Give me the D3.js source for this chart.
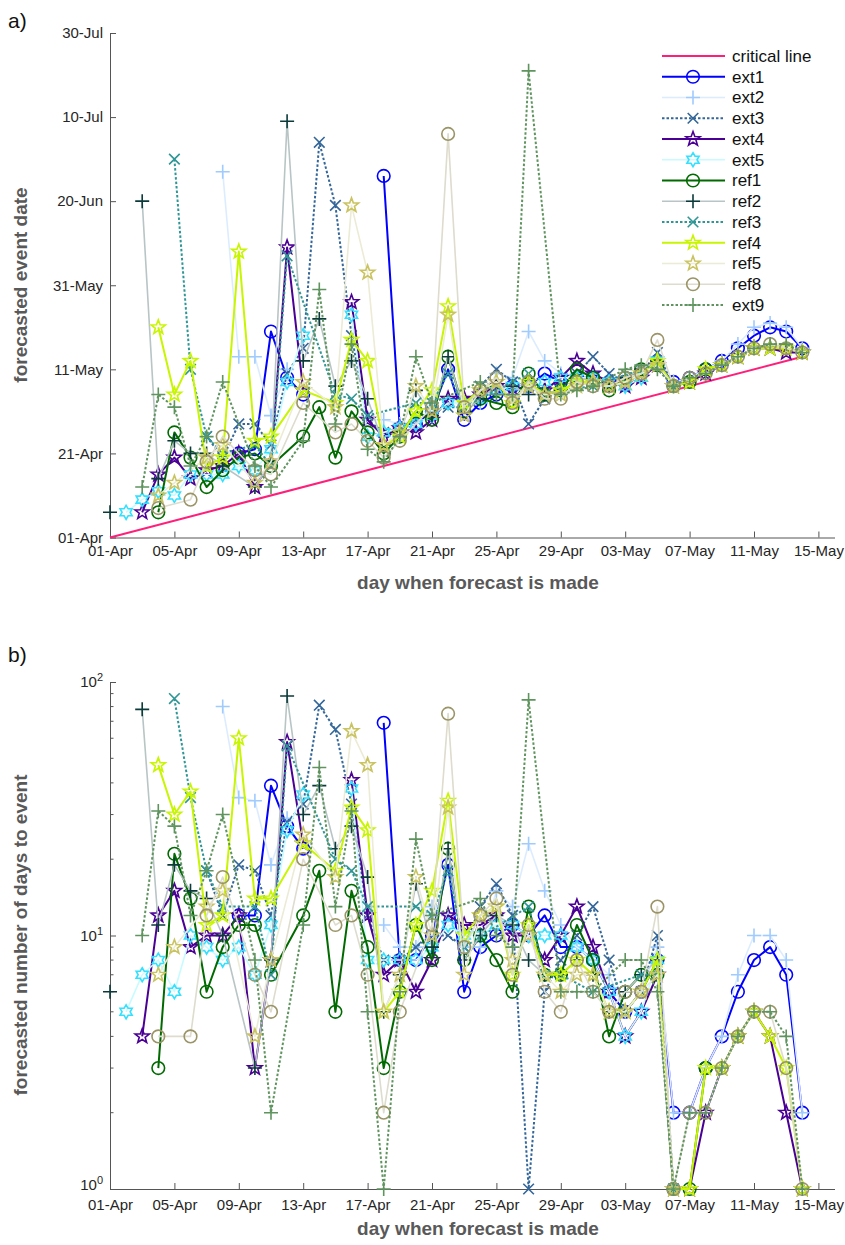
<!DOCTYPE html>
<html><head><meta charset="utf-8">
<script src="https://cdn.jsdelivr.net/npm/d3@7"></script>
<style>
body{margin:0;background:#fff}
text{font-family:"Liberation Sans",Arial,Helvetica,sans-serif}
</style>
</head><body>
<svg id="chart" width="845" height="1245"></svg>
<script>
// N = value hidden under other marks (no marker, line passes over), G = no forecast (line breaks)
const N = null, G = NaN;

// day on which the forecast is made, counted from 01-Apr
const forecastDay = [0,1,2,3,4,5,6,7,8,9,10,11,12,13,14,15,16,17,18,19,20,21,22,23,24,25,26,27,28,29,30,31,32,33,34,35,36,37,38,39,40,41,42,43];

const xTickDays   = [0,4,8,12,16,20,24,28,32,36,40,44];
const xTickLabels = ["01-Apr","05-Apr","09-Apr","13-Apr","17-Apr","21-Apr","25-Apr","29-Apr","03-May","07-May","11-May","15-May"];
const yTickDaysA   = [0,20,40,60,80,100,120];
const yTickLabelsA = ["01-Apr","21-Apr","11-May","31-May","20-Jun","10-Jul","30-Jul"];
const yTicksB    = [1,10,100];
const yTickExpB  = ["0","1","2"];
const criticalDays = [0,43];

// forecasted number of days to event (panel b); panel a = forecast day + this
const ext1 = [G,G,G,G,G,G,G,G,12,12,39,27,22,G,G,G,G,69,8,8,10,19,6,9,10,11,10,12,9,9,8,6,5,6,8,2,2,3,4,6,8,9,7,2];
const ext2 = [G,G,G,G,G,G,G,80,35,34,19,29,G,G,G,G,G,11,9,9,13,12,9,9,15,13,23,15,11,9,8,7,5,6,9,2,2,3,4,7,10,10,8,2];
const ext3 = [G,G,G,G,G,G,18,12,19,18,12,28,33,81,65,33,12,8,8,9,10,10,9,13,16,12,1,6,8,10,13,8,5,6,10,1,G,G,G,G,G,G,G,G];
const ext4 = [G,G,4,12,15,9,10,10,12,3,8,58,23,G,G,41,12,7,8,6,8,12,11,11,12,10,10,8,10,13,9,6,4,5,7,1,1,2,3,4,5,4,2,1];
const ext5 = [G,5,7,8,6,10,9,8,9,7,11,26,36,G,G,38,8,8,8,8,9,11,10,10,11,11,10,10,10,9,8,6,4,5,8,G,G,G,G,G,G,G,G,G];
const ref1 = [G,G,G,3,21,14,6,9,11,11,7,N,12,18,5,15,9,3,6,11,8,22,8,10,8,6,13,7,7,11,8,4,6,7,7,1,1,3,G,G,G,G,G,G];
const ref2 = [6,G,78,11,19,15,14,10,N,3,8,88,30,39,22,27,17,5,7,16,9,22,8,10,12,11,8,7,7,8,7,5,6,7,8,G,G,G,G,G,G,G,G,G];
const ref3 = [G,G,G,G,86,35,18,13,N,13,7,56,N,N,20,18,13,N,N,13,12,18,9,N,N,N,13,7,7,N,6,N,N,7,7,1,G,G,G,G,G,G,G,G];
const ref4 = [G,G,G,47,30,37,11,12,60,14,14,N,23,N,18,32,26,5,6,11,15,34,10,12,13,7,11,7,7,8,7,5,5,6,8,1,1,3,3,4,5,4,3,1];
const ref5 = [G,G,G,7,9,N,13,15,N,4,8,N,25,N,17,64,47,5,7,17,10,32,7,12,13,8,10,7,6,7,7,5,5,6,7,1,G,G,G,G,G,G,G,G];
const ref8 = [G,G,G,4,N,4,12,17,N,7,5,N,20,N,11,12,7,2,5,N,11,75,9,12,14,7,11,6,5,8,6,5,6,6,13,1,2,2,3,4,5,5,3,1];
const ext9 = [G,G,10,31,27,12,18,30,N,8,2,N,11,46,13,31,5,1,6,24,12,N,N,14,10,9,85,N,6,6,6,N,8,8,6,1,2,2,3,4,5,5,4,1];

const seriesNames = ["ext1","ext2","ext3","ext4","ext5","ref1","ref2","ref3","ref4","ref5","ref8","ext9"];
const seriesValues = [ext1,ext2,ext3,ext4,ext5,ref1,ref2,ref3,ref4,ref5,ref8,ext9];

// styles (kept apart from values)
const styles = {
  ext1:{mk:"#0000ff", ln:"#0000ff", w:2,   dash:null,  shape:"circle"},
  ext2:{mk:"#9fcbff", ln:"#dcecff", w:1.6, dash:null,  shape:"plus"},
  ext3:{mk:"#336699", ln:"#336699", w:2,   dash:"2.5,2", shape:"x"},
  ext4:{mk:"#4b0095", ln:"#4b0095", w:2,   dash:null,  shape:"pent"},
  ext5:{mk:"#33e0ff", ln:"#c8fbff", w:1.6, dash:null,  shape:"hex"},
  ref1:{mk:"#006a00", ln:"#006a00", w:2,   dash:null,  shape:"circle"},
  ref2:{mk:"#0b3a3a", ln:"#b9c5c5", w:1.6, dash:null,  shape:"plus"},
  ref3:{mk:"#2f9696", ln:"#2f9696", w:2,   dash:"2.5,2", shape:"x"},
  ref4:{mk:"#c8f500", ln:"#c8f500", w:2,   dash:null,  shape:"pent"},
  ref5:{mk:"#c9c360", ln:"#ecebd6", w:1.6, dash:null,  shape:"pent"},
  ref8:{mk:"#9a9466", ln:"#dedccd", w:1.6, dash:null,  shape:"circle"},
  ext9:{mk:"#5f945f", ln:"#5f945f", w:2,   dash:"2.5,2", shape:"plus"}
};
const criticalColor = "#ff1f7a";

function starPath(n, R, r){
  const pts=[];
  for(let k=0;k<2*n;k++){
    const a=-Math.PI/2 + k*Math.PI/n, rr = k%2===0?R:r;
    pts.push([ (rr*Math.cos(a)).toFixed(2), (rr*Math.sin(a)).toFixed(2) ]);
  }
  return "M"+pts.map(p=>p.join(",")).join("L")+"Z";
}
function markerPath(shape){
  switch(shape){
    case "circle": return d3.symbol(d3.symbolCircle, Math.PI*6.3*6.3)();
    case "plus": return "M-7,0H7M0,-7V7";
    case "x": return "M-5.3,-5.3L5.3,5.3M-5.3,5.3L5.3,-5.3";
    case "pent": return starPath(5, 7.5, 3.1);
    case "hex": return starPath(6, 7, 7/Math.sqrt(3));
  }
}

const svg = d3.select("#chart");
const x = d3.scaleLinear().domain([0,45]).range([110, 834.5]);
const yA = d3.scaleLinear().domain([0,120]).range([537.5, 33]);
const yB = d3.scaleLog().domain([1,100]).range([1189, 682]);

function styleAxis(g){
  g.select(".domain").attr("stroke","#555").attr("stroke-width",1);
  g.selectAll(".tick line").attr("stroke","#555");
  g.selectAll(".tick text").attr("fill","#262626").attr("font-size","15px");
}

function drawPanel(yScale, yValue, bottom, withCritical){
  const g = svg.append("g");
  // axes
  const ax = g.append("g").attr("transform",`translate(0,${bottom})`)
    .call(d3.axisBottom(x).tickValues(xTickDays).tickFormat((d,i)=>xTickLabels[i]).tickSizeInner(-6).tickSizeOuter(0).tickPadding(withCritical?8:10));
  styleAxis(ax);
  const ay = g.append("g").attr("transform",`translate(${x.range()[0]},0)`);
  if(withCritical){
    ay.call(d3.axisLeft(yScale).tickValues(yTickDaysA).tickFormat((d,i)=>yTickLabelsA[i]).tickSizeInner(-6).tickSizeOuter(0).tickPadding(7));
  } else {
    ay.call(d3.axisLeft(yScale).tickValues(yTicksB).tickFormat(()=>"10").tickSizeInner(-6).tickSizeOuter(0).tickPadding(7));
    ay.selectAll(".tick text").each(function(d,i){
      d3.select(this).append("tspan").attr("dy","-0.55em").attr("font-size","11px").text(yTickExpB[i]);
    });
    const minors = yScale.ticks().filter(t=>yTicksB.indexOf(t)<0);
    ay.selectAll(".minor").data(minors).join("line").attr("class","minor")
      .attr("x1",0).attr("x2",3.5).attr("y1",d=>yScale(d)).attr("y2",d=>yScale(d)).attr("stroke","#555");
  }
  styleAxis(ay);
  if(!withCritical){
    // lift the lowest log label slightly so it clears the date labels below
    ay.selectAll(".tick text").filter(d=>d===1).attr("dy","0.05em");
  }

  if(withCritical){
    g.append("path").datum(criticalDays)
      .attr("d", d3.line().x(d=>x(d)).y(d=>yScale(d)))
      .attr("fill","none").attr("stroke",criticalColor).attr("stroke-width",2);
  }
  seriesNames.forEach((name,si)=>{
    const st = styles[name];
    const pts = forecastDay.map((d,i)=>({d, v: seriesValues[si][i]})).filter(p=>p.v!==null);
    const line = d3.line().defined(p=>!isNaN(p.v)).x(p=>x(p.d)).y(p=>yScale(yValue(p)));
    const sg = g.append("g");
    sg.append("path").datum(pts).attr("d", line).attr("fill","none")
      .attr("stroke", st.ln).attr("stroke-width", st.w)
      .attr("stroke-dasharray", st.dash).attr("stroke-linejoin","round");
    sg.selectAll("path.mk").data(pts.filter(p=>!isNaN(p.v))).join("path").attr("class","mk")
      .attr("d", markerPath(st.shape))
      .attr("transform", p=>`translate(${x(p.d)},${yScale(yValue(p))})`)
      .attr("fill","none").attr("stroke", st.mk).attr("stroke-width",1.6);
  });
  return g;
}

drawPanel(yA, p=>p.d+p.v, 537.5, true);
drawPanel(yB, p=>p.v, 1189, false);

// titles and panel letters
const titleColor = "#595959";
function xTitle(yPos){
  svg.append("text").attr("x",478).attr("y",yPos).attr("text-anchor","middle")
    .attr("font-size","19px").attr("font-weight","bold").attr("fill",titleColor).text("day when forecast is made");
}
function yTitle(cy, txt){
  svg.append("text").attr("transform",`translate(27,${cy}) rotate(-90)`).attr("text-anchor","middle")
    .attr("font-size","19px").attr("font-weight","bold").attr("fill",titleColor).text(txt);
}
xTitle(589);
xTitle(1235);
yTitle(285, "forecasted event date");
yTitle(935, "forecasted number of days to event");
svg.append("text").attr("x",8).attr("y",28).attr("font-size","21px").attr("fill","#111").text("a)");
svg.append("text").attr("x",8).attr("y",662).attr("font-size","21px").attr("fill","#111").text("b)");

// legend
const legendNames = ["critical line"].concat(seriesNames);
const lg = svg.append("g");
legendNames.forEach((name,i)=>{
  const yy = 56 + i*20.75;
  const st = i===0 ? {ln:criticalColor, mk:null, w:2, dash:null} : styles[name];
  lg.append("line").attr("x1",662).attr("x2",725).attr("y1",yy).attr("y2",yy)
    .attr("stroke",st.ln).attr("stroke-width",st.w).attr("stroke-dasharray",st.dash);
  if(i>0){
    lg.append("path").attr("d",markerPath(st.shape)).attr("transform",`translate(693,${yy})`)
      .attr("fill","none").attr("stroke",st.mk).attr("stroke-width",1.6);
  }
  lg.append("text").attr("x",732).attr("y",yy).attr("dy","0.35em").attr("font-size","17px").attr("fill","#111").text(name);
});
</script>
</body></html>
